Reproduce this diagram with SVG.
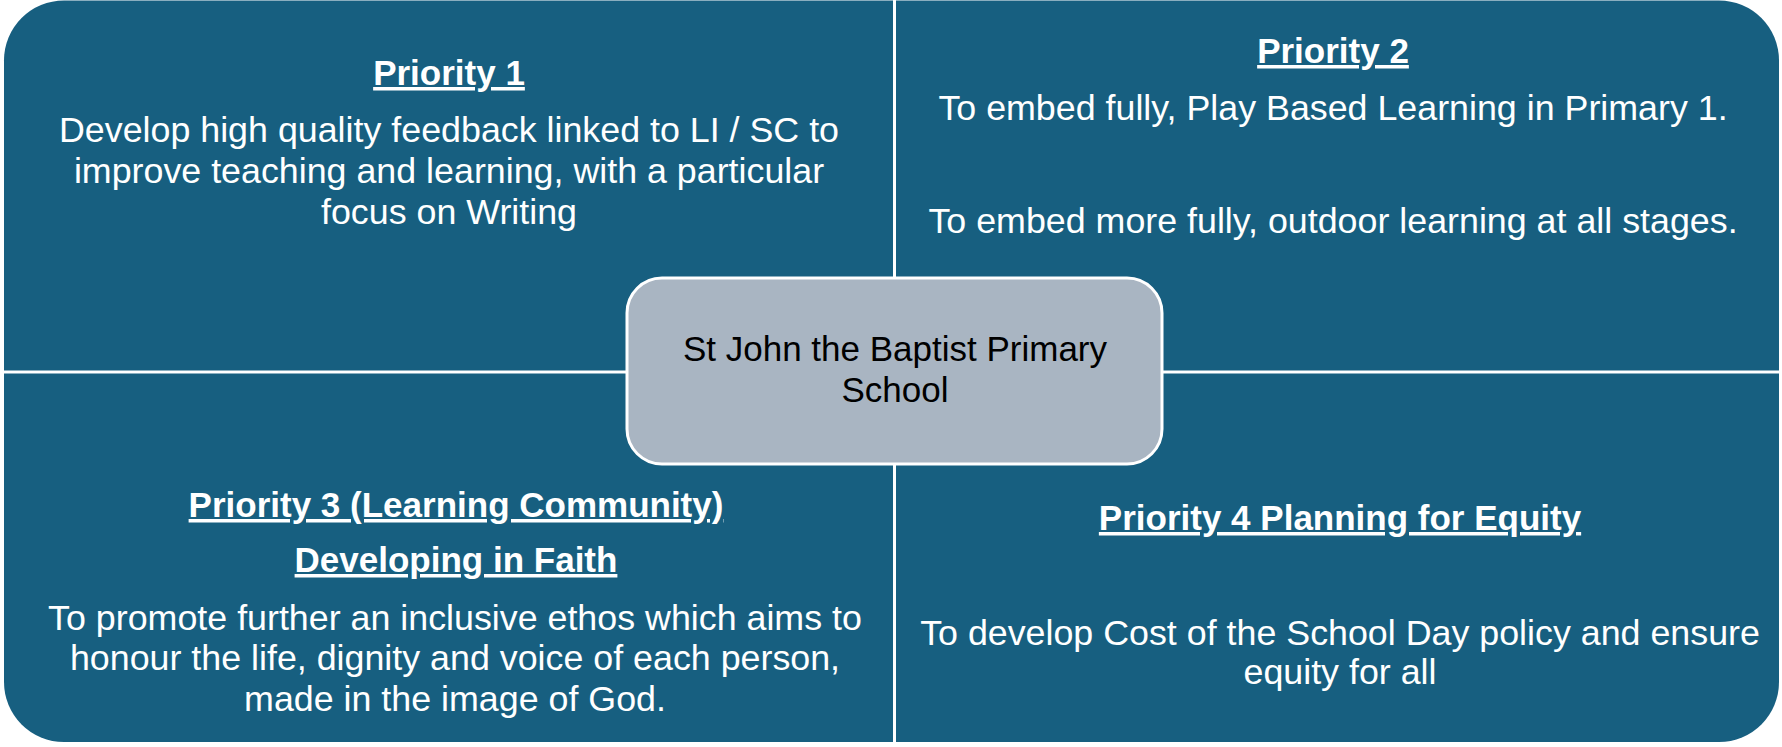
<svg xmlns="http://www.w3.org/2000/svg" width="1782" height="747" viewBox="0 0 1782 747">
<style>
.bg{fill:#175F80}
.div{stroke:#FFFFFF;stroke-width:3;fill:none}
.t{font-family:"Liberation Sans",Arial,sans-serif;font-size:35.8px;fill:#FFFFFF;text-anchor:middle}
.h{font-size:35px;font-weight:bold;text-decoration:underline}
.center{fill:#A9B5C2;stroke:#FFFFFF;stroke-width:3}
.ct{font-family:"Liberation Sans",Arial,sans-serif;font-size:35px;fill:#000000;text-anchor:middle}
</style>
<rect class="bg" x="4" y="0.5" width="1775" height="741.5" rx="60" ry="60"/>
<g id="connectors">
<line class="div" x1="894.5" y1="0" x2="894.5" y2="742"/>
<line class="div" x1="4" y1="372" x2="1779" y2="372"/>
</g>
<g id="priority1">
<text class="t h" x="449" y="85">Priority 1</text>
<text class="t" x="449" y="142">Develop high quality feedback linked to LI / SC to</text>
<text class="t" x="449" y="183">improve teaching and learning, with a particular</text>
<text class="t" x="449" y="224">focus on Writing</text>
</g>
<g id="priority2">
<text class="t h" x="1333" y="63">Priority 2</text>
<text class="t" x="1333" y="120">To embed fully, Play Based Learning in Primary 1.</text>
<text class="t" x="1333" y="233">To embed more fully, outdoor learning at all stages.</text>
</g>
<g id="priority3">
<text class="t h" x="456" y="517">Priority 3 (Learning Community)</text>
<text class="t h" x="456" y="572">Developing in Faith</text>
<text class="t" x="455" y="630">To promote further an inclusive ethos which aims to</text>
<text class="t" x="455" y="670">honour the life, dignity and voice of each person,</text>
<text class="t" x="455" y="711">made in the image of God.</text>
</g>
<g id="priority4">
<text class="t h" x="1340" y="530">Priority 4 Planning for Equity</text>
<text class="t" x="1340" y="645">To develop Cost of the School Day policy and ensure</text>
<text class="t" x="1340" y="684">equity for all</text>
</g>
<g id="school">
<rect class="center" x="627" y="278" width="535" height="186" rx="35" ry="35"/>
<text class="ct" x="895" y="361">St John the Baptist Primary</text>
<text class="ct" x="895" y="402">School</text>
</g>
</svg>
